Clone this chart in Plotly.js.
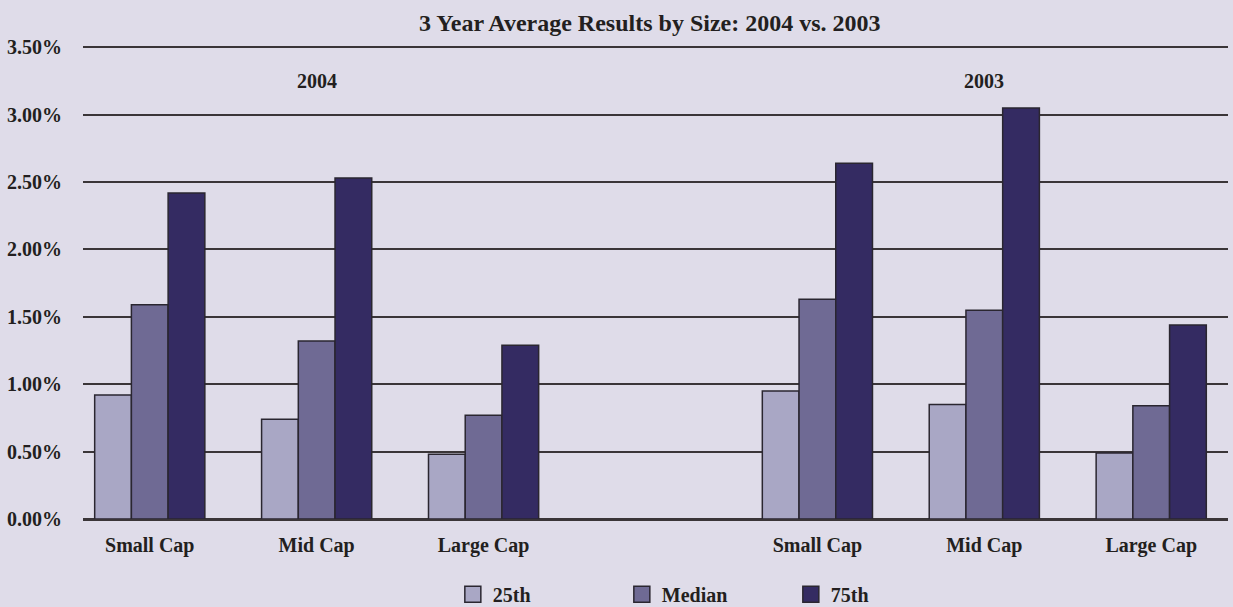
<!DOCTYPE html>
<html>
<head>
<meta charset="utf-8">
<script src="https://cdn.plot.ly/plotly-3.0.1.min.js"></script>
<style>html,body{margin:0;padding:0;background:#dfdce9;}#chart{width:1233px;height:607px;}</style>
</head>
<body>
<div id="chart"></div>
<script>
// Data
const categories = ['Small Cap', 'Mid Cap', 'Large Cap', 'Small Cap', 'Mid Cap', 'Large Cap'];
const positions = [0, 1, 2, 4, 5, 6];
const groupLabels = ['2004', '2003'];
const groupCenters = [1, 5];
const seriesNames = ['25th', 'Median', '75th'];
const p25 = [0.92, 0.74, 0.48, 0.95, 0.85, 0.49];
const median = [1.59, 1.32, 0.77, 1.63, 1.55, 0.84];
const p75 = [2.42, 2.53, 1.29, 2.64, 3.05, 1.44];
const yTicks = [0, 0.5, 1.0, 1.5, 2.0, 2.5, 3.0, 3.5];

const colors = ['#a9a7c5', '#6f6a94', '#342b62'];
const values = [p25, median, p75];
const fontFamily = '"Liberation Serif", "DejaVu Serif", serif';
const textColor = '#231f20';
const outline = '#2a2630';

const barTraces = seriesNames.map((name, i) => ({
  type: 'bar',
  name: name,
  legendgroup: name,
  showlegend: false,
  x: positions,
  y: values[i],
  marker: { color: colors[i], line: { color: outline, width: 1.5 } },
  hoverinfo: 'y+name'
}));

// legend entries with larger square swatches (no data points)
const legendTraces = seriesNames.map((name, i) => ({
  type: 'scatter',
  mode: 'markers',
  name: '<b>' + name + '</b>',
  legendgroup: name,
  showlegend: true,
  x: [null],
  y: [null],
  marker: { symbol: 'square', size: 20, color: colors[i], line: { color: outline, width: 1.5 } },
  hoverinfo: 'skip'
}));

const layout = {
  width: 1233,
  height: 607,
  paper_bgcolor: '#dfdce9',
  plot_bgcolor: '#dfdce9',
  margin: { l: 83, r: 5, t: 46, b: 88 },
  font: { family: fontFamily, color: textColor, size: 20 },
  title: {
    text: '<b>3 Year Average Results by Size: 2004 vs. 2003</b>',
    font: { family: fontFamily, size: 24, color: textColor },
    x: 0.527, xanchor: 'center', y: 0.963, yanchor: 'middle'
  },
  barmode: 'group',
  bargap: 0.34,
  bargroupgap: 0,
  xaxis: {
    range: [-0.4, 6.46],
    tickvals: positions,
    ticktext: categories.map(c => '<b>' + c + '</b>'),
    ticks: 'outside', ticklen: 8, tickcolor: 'rgba(0,0,0,0)',
    showgrid: false, zeroline: false, showline: false,
    tickfont: { family: fontFamily, size: 20, color: textColor },
    fixedrange: true
  },
  yaxis: {
    range: [0, 3.51],
    tickvals: yTicks,
    ticktext: yTicks.map(v => '<b>' + v.toFixed(2) + '%</b>'),
    showgrid: true, gridcolor: '#3a3538', gridwidth: 2,
    zeroline: true, zerolinecolor: '#3a3538', zerolinewidth: 3,
    ticks: 'outside', ticklen: 16, tickcolor: 'rgba(0,0,0,0)',
    tickfont: { family: fontFamily, size: 20, color: textColor },
    fixedrange: true
  },
  showlegend: true,
  legend: {
    orientation: 'h',
    x: 0.323, xanchor: 'left', xref: 'paper',
    y: 0.021, yanchor: 'middle', yref: 'container',
    bgcolor: 'rgba(0,0,0,0)',
    font: { family: fontFamily, size: 20, color: textColor },
    entrywidth: 124, entrywidthmode: 'pixels',
    itemwidth: 30,
    itemsizing: 'trace',
    traceorder: 'normal'
  },
  annotations: groupLabels.map((g, i) => ({
    text: '<b>' + g + '</b>',
    x: groupCenters[i], xref: 'x',
    y: 3.25, yref: 'y',
    showarrow: false,
    font: { family: fontFamily, size: 20, color: textColor }
  }))
};

Plotly.newPlot('chart', barTraces.concat(legendTraces), layout, { displayModeBar: false, staticPlot: true });
</script>
</body>
</html>
